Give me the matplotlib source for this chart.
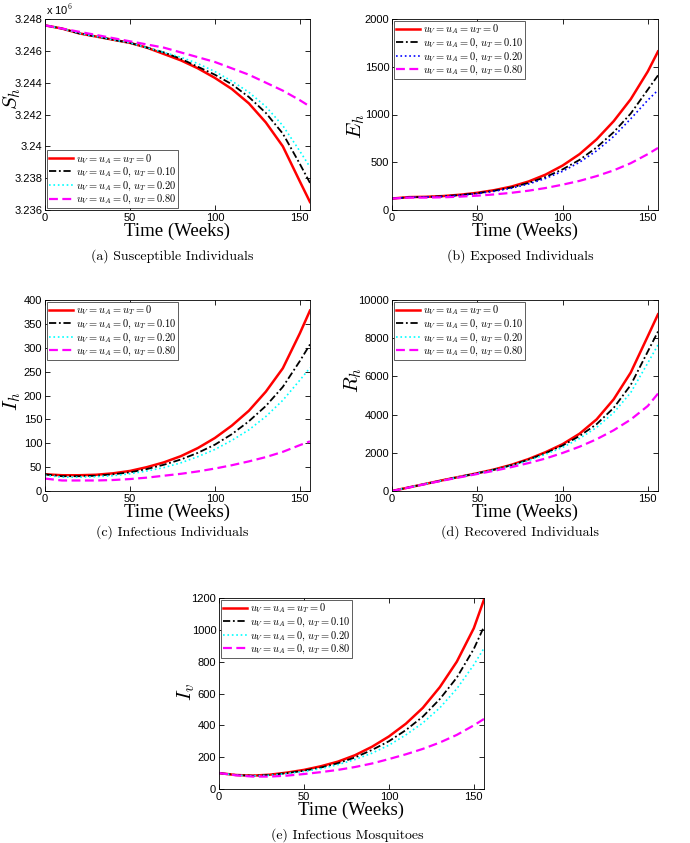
import matplotlib
matplotlib.use("Agg")
import matplotlib.pyplot as plt
from matplotlib.ticker import FuncFormatter

plt.rcParams['mathtext.fontset'] = 'cm'
plt.rcParams['font.family'] = ['Liberation Sans', 'DejaVu Sans']

# time grid (weeks)
t = [0, 10, 20, 30, 40, 50, 60, 70, 80, 90, 100, 110, 120, 130, 140, 150, 156]

labels = [r'$u_V = u_A = u_T = 0$',
          r'$u_V = u_A = 0,\, u_T = 0.10$',
          r'$u_V = u_A = 0,\, u_T = 0.20$',
          r'$u_V = u_A = 0,\, u_T = 0.80$']

# (a) susceptible humans
sh_0 = [3.2476e6, 3.2474e6, 3.2471e6, 3.2469e6, 3.2467e6, 3.2465e6, 3.2462e6, 3.2458e6, 3.2454e6,
        3.2449e6, 3.2443e6, 3.2436e6, 3.2427e6, 3.2415e6, 3.2400e6, 3.2378e6, 3.2365e6]
sh_10 = [3.2476e6, 3.2474e6, 3.2471e6, 3.2469e6, 3.2467e6, 3.2465e6, 3.2462e6, 3.2459e6, 3.2455e6,
         3.2450e6, 3.2445e6, 3.2439e6, 3.2431e6, 3.2421e6, 3.2408e6, 3.2389e6, 3.2377e6]
sh_20 = [3.2476e6, 3.2474e6, 3.2471e6, 3.2469e6, 3.2467e6, 3.2465e6, 3.2462e6, 3.2459e6, 3.2456e6,
         3.2452e6, 3.2447e6, 3.2441e6, 3.2434e6, 3.2425e6, 3.2413e6, 3.2397e6, 3.2387e6]
sh_80 = [3.2476e6, 3.2474e6, 3.2472e6, 3.2470e6, 3.2468e6, 3.2466e6, 3.2464e6, 3.2462e6, 3.2459e6,
         3.2456e6, 3.2453e6, 3.2449e6, 3.2445e6, 3.2440e6, 3.2435e6, 3.2429e6, 3.2425e6]

# (b) exposed humans
eh_0 = [120, 135, 138, 146, 160, 180, 208, 245, 298, 370, 465, 585, 740, 930, 1160, 1450, 1660]
eh_10 = [120, 134, 137, 144, 157, 176, 202, 236, 283, 345, 425, 525, 655, 815, 1010, 1260, 1410]
eh_20 = [120, 133, 136, 142, 154, 172, 196, 228, 272, 330, 405, 500, 620, 770, 955, 1150, 1255]
eh_80 = [120, 130, 130, 133, 140, 150, 163, 180, 202, 230, 265, 305, 355, 415, 490, 585, 650]

# (c) infectious humans
ih_0 = [35, 33, 33, 34, 37, 42, 50, 60, 73, 90, 111, 137, 168, 208, 257, 330, 378]
ih_10 = [35, 31, 31, 32, 35, 39, 46, 55, 66, 80, 97, 119, 146, 178, 218, 272, 307]
ih_20 = [33, 29, 29, 30, 32, 36, 42, 49, 59, 72, 87, 106, 128, 156, 190, 232, 258]
ih_80 = [26, 22, 22, 22, 23, 25, 28, 32, 36, 41, 47, 54, 62, 71, 82, 96, 104]

# (d) recovered humans
rh_0 = [0, 190, 380, 570, 750, 930, 1130, 1370, 1670, 2030, 2450, 3000, 3750, 4800, 6200, 8100, 9250]
rh_10 = [0, 190, 380, 570, 750, 930, 1120, 1350, 1640, 1980, 2380, 2880, 3500, 4350, 5550, 7300, 8350]
rh_20 = [0, 190, 380, 565, 745, 920, 1100, 1320, 1590, 1920, 2280, 2750, 3330, 4100, 5150, 6700, 7650]
rh_80 = [0, 185, 370, 550, 720, 890, 1060, 1250, 1460, 1700, 1990, 2320, 2710, 3180, 3740, 4450, 5100]

# (e) infectious mosquitoes
iv_0 = [100, 88, 84, 90, 103, 120, 143, 172, 212, 265, 330, 410, 510, 640, 800, 1010, 1190]
iv_10 = [100, 88, 83, 88, 100, 115, 135, 162, 198, 245, 300, 370, 455, 565, 700, 880, 1020]
iv_20 = [100, 87, 82, 86, 97, 110, 128, 153, 185, 225, 275, 340, 415, 510, 630, 780, 885]
iv_80 = [100, 86, 78, 78, 84, 94, 106, 120, 138, 160, 188, 218, 252, 292, 340, 400, 440]

fig = plt.figure(figsize=(6.9, 8.43), dpi=100)

W, H = 690.0, 843.0


def add_panel(px_left, px_top, px_w, px_h):
    return fig.add_axes([px_left / W, 1 - (px_top + px_h) / H, px_w / W, px_h / H])


def draw(ax, series, third_color, ylim, yticks, ylabel, loc, lab_xy):
    styles = [dict(color='red', ls='-', lw=1.8),
              dict(color='black', ls=(0, (4, 1.5, 1, 1.5)), lw=1.3),
              dict(color=third_color, ls=':', lw=1.2),
              dict(color='magenta', ls=(0, (4, 2)), lw=1.6)]
    for y, st, lab in zip(series, styles, labels):
        ax.plot(t, y, label=lab, **st)
    ax.set_xlim(0, 156)
    ax.set_ylim(*ylim)
    ax.set_xticks([0, 50, 100, 150])
    ax.set_yticks(yticks)
    ax.tick_params(direction='in', top=True, right=True, length=3.5, width=0.6,
                   labelsize=8, pad=2)
    for s in ax.spines.values():
        s.set_linewidth(0.6)
    ax.set_xlabel('Time (Weeks)', family='Liberation Serif', fontsize=13.5, labelpad=0)
    ax.set_ylabel(ylabel, fontsize=15, va='center')
    ax.yaxis.set_label_coords(*lab_xy)
    leg = ax.legend(loc=loc, fontsize=7.5, fancybox=False, framealpha=1,
                    edgecolor='#444444', borderaxespad=0.15, borderpad=0.2,
                    labelspacing=0.02, handlelength=2.3, handletextpad=0.3)
    leg.get_frame().set_linewidth(0.6)


axa = add_panel(45, 19, 265, 191)
draw(axa, [sh_0, sh_10, sh_20, sh_80], 'cyan', (3.236e6, 3.248e6),
     [3.236e6, 3.238e6, 3.240e6, 3.242e6, 3.244e6, 3.246e6, 3.248e6],
     r'$S_h$', 'lower left', (-0.125, 0.586))
axa.yaxis.set_major_formatter(FuncFormatter(lambda v, p: f'{v / 1e6:g}'))
axa.text(0.005, 1.01, r'x 10$^6$', transform=axa.transAxes, fontsize=8,
         ha='left', va='bottom')

axb = add_panel(392, 19, 266, 191)
draw(axb, [eh_0, eh_10, eh_20, eh_80], 'blue', (0, 2000), [0, 500, 1000, 1500, 2000],
     r'$E_h$', 'upper left', (-0.135, 0.44))

axc = add_panel(45, 300, 265, 191)
draw(axc, [ih_0, ih_10, ih_20, ih_80], 'cyan', (0, 400), list(range(0, 401, 50)),
     r'$I_h$', 'upper left', (-0.125, 0.47))

axd = add_panel(392, 300, 266, 191)
draw(axd, [rh_0, rh_10, rh_20, rh_80], 'cyan', (0, 10000), list(range(0, 10001, 2000)),
     r'$R_h$', 'upper left', (-0.145, 0.58))

axe = add_panel(219, 598, 265, 191)
draw(axe, [iv_0, iv_10, iv_20, iv_80], 'cyan', (0, 1200), list(range(0, 1201, 200)),
     r'$I_v$', 'upper left', (-0.125, 0.51))

captions = [('(a) Susceptible Individuals', 172, 256),
            ('(b) Exposed Individuals', 520, 256),
            ('(c) Infectious Individuals', 172, 532),
            ('(d) Recovered Individuals', 520, 532),
            ('(e) Infectious Mosquitoes', 347, 835)]
for txt, cx, cy in captions:
    fig.text(cx / W, 1 - cy / H, txt, family='cmr10', fontsize=10, ha='center', va='center')

fig.savefig('out.png', dpi=100)
